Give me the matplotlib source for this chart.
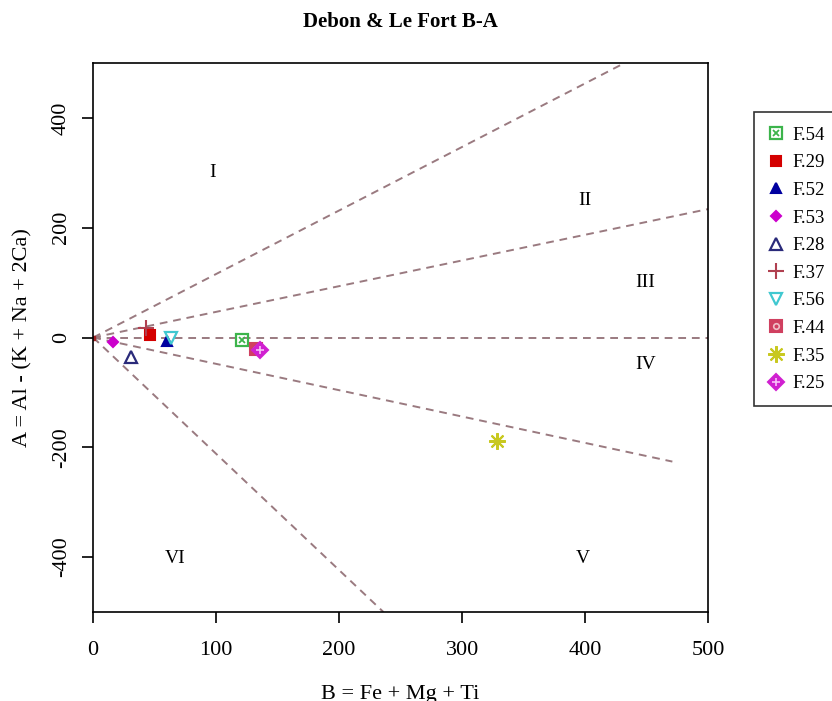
import matplotlib.pyplot as plt
from matplotlib.legend_handler import HandlerTuple

plt.rcParams['font.family'] = ['Liberation Serif', 'DejaVu Serif']

# Samples: name, B, A
names = ['F.54', 'F.29', 'F.52', 'F.53', 'F.28', 'F.37', 'F.56', 'F.44', 'F.35', 'F.25']
b_vals = [121, 46, 60, 16, 31, 43, 63, 132, 328, 136]
a_vals = [-5, 4, -7, -9, -35, 18, 0, -20, -189, -22]
colors = ['#3cb44b', '#d40000', '#0000a0', '#cc00cc', '#2a2a7a',
          '#b04050', '#40c8d0', '#d04060', '#c8c820', '#d020d0']

# marker style: (base marker, filled, size, overlay marker or None)
styles = [('s', False, 8, 'x'), ('s', True, 7, None), ('^', True, 7, None),
          ('D', True, 5, None), ('^', False, 9, None), ('+', True, 12, None),
          ('v', False, 9, None), ('s', True, 8, 'o'), ((8, 2, 0), True, 12, None),
          ('D', True, 8, '+')]

# Boundary lines (end points of the field lines from the origin)
line_ends_x = [432, 500, 500, 471, 236]
line_ends_y = [500, 234, 0, -226, -500]

# Field labels
field_names = ['I', 'II', 'III', 'IV', 'V', 'VI']
field_x = [97, 400, 449, 449, 398, 67]
field_y = [300, 249, 100, -50, -402, -402]

fig = plt.figure(figsize=(8.32, 7.01), dpi=100)
ax = fig.add_axes([0.112, 0.127, 0.739, 0.783])

for ex, ey in zip(line_ends_x, line_ends_y):
    ax.plot([0, ex], [0, ey], ls=(0, (4, 3)), color='#9a7a80', lw=1.4)
ax.plot([0], [0], marker='s', color='#a02020', ms=3)

handles = []
for n, x, y, c, st in zip(names, b_vals, a_vals, colors, styles):
    m, f, s, over = st
    if f:
        h, = ax.plot(x, y, marker=m, color=c, ms=s, ls='none', mew=1.5)
    else:
        h, = ax.plot(x, y, marker=m, color=c, ms=s, ls='none',
                     markerfacecolor='none', mew=1.6)
    if over == 'x':
        h2, = ax.plot(x, y, marker='x', color=c, ms=s * 0.6, ls='none', mew=1.3)
        h = (h, h2)
    elif over == 'o':
        h2, = ax.plot(x, y, marker='o', color='#f0c0c8', ms=s * 0.5, ls='none',
                      markerfacecolor='none', mew=1.2)
        h = (h, h2)
    elif over == '+':
        h2, = ax.plot(x, y, marker='+', color='#f8c0f8', ms=s * 0.7, ls='none', mew=1.2)
        h = (h, h2)
    handles.append(h)

for t, x, y in zip(field_names, field_x, field_y):
    ax.text(x, y, t, fontsize=14, ha='center', va='center')

ax.set_xlim(0, 500)
ax.set_ylim(-500, 500)
ax.set_xticks([0, 100, 200, 300, 400, 500])
ax.set_yticks([-400, -200, 0, 200, 400])
ax.set_yticklabels(['-400', '-200', '0', '200', '400'], rotation=90, va='center')
ax.tick_params(labelsize=16, length=8, width=1.2, direction='out')
ax.tick_params(axis='x', pad=13)
ax.tick_params(axis='y', pad=8)
for sp in ax.spines.values():
    sp.set_linewidth(1.2)

ax.set_xlabel('B = Fe + Mg + Ti', fontsize=16, labelpad=18)
ax.set_ylabel('A = Al - (K + Na + 2Ca)', fontsize=16, labelpad=14)
fig.text(0.481, 0.968, 'Debon & Le Fort B-A', fontsize=15, fontweight='bold',
         ha='center', va='center')

leg = ax.legend(handles, names, loc='upper left', bbox_to_anchor=(1.075, 0.91),
                fontsize=13.5, frameon=True, fancybox=False, edgecolor='black',
                handletextpad=0.5, labelspacing=0.56, borderpad=0.75,
                borderaxespad=0, handlelength=0.8,
                handler_map={tuple: HandlerTuple(ndivide=1, pad=0)})
leg.get_frame().set_linewidth(1.2)

fig.savefig('out.png', dpi=100)
